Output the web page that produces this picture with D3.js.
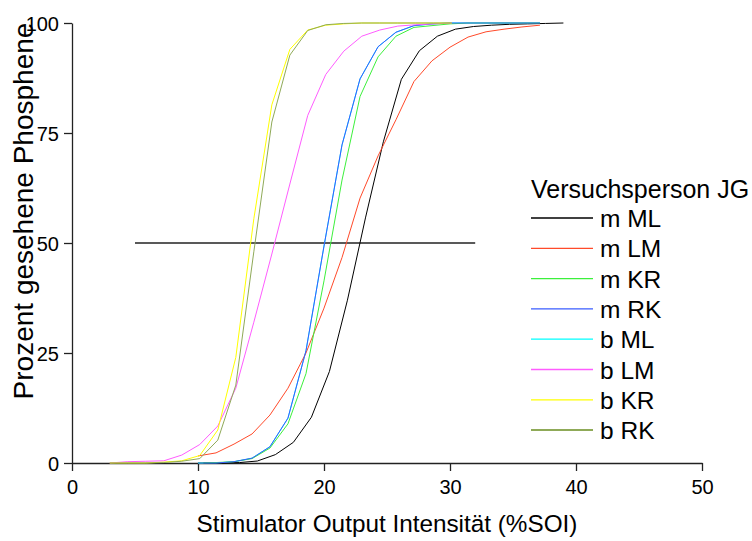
<!DOCTYPE html>
<html>
<head>
<meta charset="utf-8">
<title>Prozent gesehene Phosphene</title>
<script src="https://d3js.org/d3.v7.min.js"></script>
<style>
body { margin: 0; background: #fff; }
svg { font-family: "Liberation Sans", Arial, sans-serif; }
</style>
</head>
<body>
<script type="text/javascript">

// x values (%SOI) of the sample points
var xM = [10, 11.43, 12.86, 14.29, 15.71, 17.14, 18.57, 20, 21.43, 22.86,
          24.29, 25.71, 27.14, 28.57, 30, 31.43, 32.86, 34.29, 35.71, 37.14];
var xML = [10.43, 11.86, 13.29, 14.71, 16.14, 17.57, 19.0, 20.43, 21.86, 23.29,
           24.71, 26.14, 27.57, 29.0, 30.43, 31.86, 33.29, 34.71, 36.14, 37.57, 39.0];
var xB = [3, 4.43, 5.86, 7.29, 8.71, 10.14, 11.57, 13.0, 14.43, 15.86,
          17.29, 18.71, 20.14, 21.57, 23.0, 24.43, 25.86, 27.29, 28.71, 30.14];

// percent of phosphenes seen
var mML = [0, 0, 0.1, 0.45, 1.9, 4.7, 10.4, 20.8, 37.0, 55.7,
           73.0, 87.2, 93.7, 97.0, 98.6, 99.2, 99.5, 99.7, 99.8, 99.9, 100];
var mLM = [1.6, 2.3, 4.3, 6.6, 10.9, 17.0, 25.0, 35.2, 46.7, 60.2,
           69.8, 78.0, 86.7, 91.4, 94.5, 96.8, 98.0, 98.6, 99.1, 99.5];
var mKR = [0, 0.1, 0.3, 1.0, 3.4, 8.9, 20.3, 41.4, 64.3, 83.3,
           92.3, 97.0, 99.0, 99.4, 99.8, 100, 100, 100, 100, 100];
var mRK = [0, 0, 0.3, 1.1, 3.7, 10.2, 25.5, 49.3, 72.3, 87.3,
           94.6, 97.9, 99.4, 99.8, 100, 100, 100, 100, 100, 100];
var bML = [0, 0, 0.3, 1.1, 3.7, 10.2, 25.5, 49.3, 72.3, 87.3,
           94.6, 97.9, 99.4, 99.8, 100, 100, 100, 100, 100, 100];
var bLM = [0, 0.3, 0.4, 0.5, 1.8, 4.2, 8.4, 17.0, 32.0, 47.5,
           63.4, 79.0, 88.3, 93.6, 97.0, 98.4, 99.3, 99.6, 99.8, 100];
var bKR = [0, 0, 0, 0.2, 0.5, 1.7, 7.5, 24.0, 55.5, 81.4,
           94.0, 98.4, 99.5, 99.8, 100, 100, 100, 100, 100, 100];
var bRK = [0, 0, 0, 0.1, 0.4, 1.0, 5.2, 17.7, 48.0, 77.5,
           92.7, 98.3, 99.6, 99.9, 100, 100, 100, 100, 100, 100];

var names = ["m ML", "m LM", "m KR", "m RK", "b ML", "b LM", "b KR", "b RK"];
var colors = ["#000000", "#ff4a2a", "#3cf03c", "#3a5cff", "#00ffff", "#ff5cff", "#ffff00", "#8faa58"];
var xs = [xML, xM, xM, xM, xM, xB, xB, xB];
var ys = [mML, mLM, mKR, mRK, bML, bLM, bKR, bRK];
// drawing order (b ML lies under m RK)
var drawOrder = [4, 0, 1, 2, 3, 5, 6, 7];

var xTicks = [0, 10, 20, 30, 40, 50];
var yTicks = [0, 25, 50, 75, 100];
var refLine = {x0: 5, x1: 32, y: 50};

var width = 752;
var height = 541;
var margin = {left: 72, top: 23, right: 50, bottom: 78};

var svg = d3.select("body")
            .append("svg")
            .attr("width", width)
            .attr("height", height);

var x = d3.scaleLinear().domain([0, 50]).range([margin.left, width - margin.right]);
var y = d3.scaleLinear().domain([0, 100]).range([height - margin.bottom, margin.top]);

// axes
var xAxis = svg.append("g")
               .attr("transform", "translate(0," + y(0) + ")")
               .call(d3.axisBottom(x).tickValues(xTicks).tickSize(8).tickSizeOuter(0).tickPadding(9));
var yAxis = svg.append("g")
               .attr("transform", "translate(" + x(0) + ",0)")
               .call(d3.axisLeft(y).tickValues(yTicks).tickSize(8).tickSizeOuter(0).tickPadding(5));

[xAxis, yAxis].forEach(function(a){
    a.select(".domain").attr("stroke", "#222").attr("stroke-width", 1.3);
    a.selectAll(".tick line").attr("stroke", "#222").attr("stroke-width", 1.3);
    a.selectAll(".tick text")
     .attr("fill", "#000")
     .style("font-size", "20px")
     .style("font-family", "'Liberation Sans', Arial, sans-serif");
});
yAxis.selectAll(".tick text").attr("dy", "0.36em");

// reference line at 50 %
svg.append("line")
   .attr("x1", x(refLine.x0))
   .attr("x2", x(refLine.x1))
   .attr("y1", y(refLine.y))
   .attr("y2", y(refLine.y))
   .attr("stroke", "#222")
   .attr("stroke-width", 1.3);

var line = d3.line()
             .x(function(d){ return x(d[0]); })
             .y(function(d){ return y(d[1]); });

var gLines = svg.append("g");
drawOrder.forEach(function(i){
    var pts = xs[i].map(function(v, k){ return [v, ys[i][k]]; });
    gLines.append("path")
          .datum(pts)
          .attr("fill", "none")
          .attr("stroke", colors[i])
          .attr("stroke-width", 1)
          .attr("d", line);
});

// axis titles
svg.append("text")
   .attr("x", (x(0) + x(50)) / 2)
   .attr("y", 532)
   .attr("text-anchor", "middle")
   .style("font-size", "24.3px")
   .text("Stimulator Output Intensität (%SOI)");

svg.append("text")
   .attr("transform", "translate(33,211) rotate(-90)")
   .attr("text-anchor", "middle")
   .style("font-size", "28px")
   .text("Prozent gesehene Phosphene");

// legend
var leg = svg.append("g");
leg.append("text")
   .attr("x", 531)
   .attr("y", 198)
   .style("font-size", "25px")
   .text("Versuchsperson JG");

names.forEach(function(n, i){
    var ly = 218 + i * 30.3;
    leg.append("line")
       .attr("x1", 531).attr("x2", 593)
       .attr("y1", ly).attr("y2", ly)
       .attr("stroke", colors[i])
       .attr("stroke-width", i == 7 ? 2 : 1.3);
    leg.append("text")
       .attr("x", 600)
       .attr("y", ly + 9)
       .style("font-size", "24.5px")
       .text(n);
});

</script>
</body>
</html>
